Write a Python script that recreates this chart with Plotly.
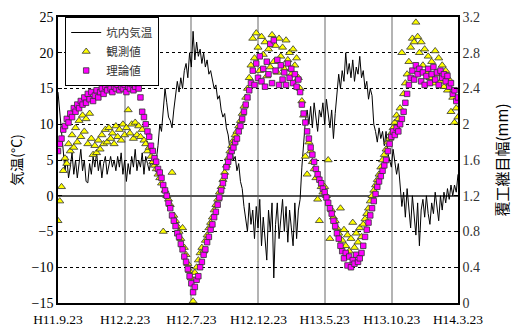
import pandas as pd
import plotly.graph_objects as go

start_date = "1999-09-23"
step_days = 4

tick_dates = ["1999-09-23", "2000-02-23", "2000-07-23", "2000-12-23",
              "2001-05-23", "2001-10-23", "2002-03-23"]
tick_labels = ["H11.9.23", "H12.2.23", "H12.7.23", "H12.12.23",
               "H13.5.23", "H13.10.23", "H14.3.23"]

# 坑内気温 (°C), every 4 days
air_temp = [
    14.5, 12.0, 8.5, 6.0, 3.5, 5.5, 2.5, 4.0, 6.0, 3.0,
    5.0, 2.5, 4.5, 6.5, 3.5, 5.0, 2.0, 1.8, 4.5, 3.0,
    5.5, 4.0, 6.0, 3.5, 5.0, 2.5, 4.5, 5.5, 3.0, 4.5,
    5.5, 4.0, 5.0, 3.5, 5.5, 4.0, 6.0, 3.0, 5.0, 2.0,
    4.5, 3.0, 5.5, 4.0, 6.5, 3.5, 5.0, 4.0, 6.0, 3.0,
    5.5, 4.5, 3.5, 5.0, 4.0, 5.5, 5.0, 7.0, 10.0, 9.0,
    12.5, 15.0, 13.0, 11.0, 10.5, 9.5, 12.0, 14.5, 16.0, 14.5,
    16.5, 15.0, 17.5, 18.5, 16.5, 20.0, 18.0, 23.0, 19.0, 21.5,
    19.5, 20.5, 18.5, 20.0, 18.0, 19.0, 17.0, 17.5, 16.0, 15.0,
    15.5, 13.5, 14.0, 12.0, 11.0, 11.5, 9.5, 8.5, 6.5, 7.0,
    5.0, 5.5, 3.5, 4.5, 2.0, 1.0, -1.5, -3.0, -5.0, -1.0,
    -4.0, -2.0, -6.0, -1.5, -4.5, -0.5, -7.0, -3.0, -5.5, -9.0,
    -2.0, -5.0, -1.0, -11.5, -4.0, -1.0, -6.0, -2.5, -0.5, -5.0,
    -1.5, -6.5, -2.0, -4.5, -7.0, -1.0, -6.0, -2.0, -0.5, 4.0,
    7.5, 10.5, 12.0, 10.0, 12.5, 9.5, 13.0, 10.5, 9.0, 12.0,
    11.0, 13.0, 10.0, 13.5, 11.0, 9.5, 12.0, 8.0, 11.5, 14.0,
    17.0, 15.0, 17.5, 16.0, 20.0, 17.0, 18.5, 16.5, 19.0, 16.0,
    18.0, 17.0, 19.5, 16.5, 17.5, 15.0, 16.0, 13.5, 15.0, 14.0,
    10.0, 9.0, 7.5, 9.5, 8.0, 9.0, 7.0, 9.0, 6.0, 5.0,
    4.0, 6.5, 5.0, 3.0, 4.5, 1.0, -1.5, 0.5, -3.0, 1.0,
    -2.0, -4.5, 0.0, -3.5, -5.5, -1.0, -7.0, -2.0, -0.5, -3.0,
    0.0, -2.5, -4.0, -1.0, -2.5, 0.5, -1.5, -3.5, 0.0, -2.0,
    0.5, -1.0, 1.0, -0.5, 1.5, 0.0, 1.5, 0.5, 3.0,
]

# 観測値 (mm)
observed = [
    0.92, 1.14, 1.30, 1.48, 1.62, 1.56, 1.78, 1.70, 1.88, 1.74,
    1.96, 1.80, 2.04, 1.86, 2.10, 1.92, 2.06, 1.78, 2.12, 1.84,
    1.66, 1.76, 1.68, 1.82, 1.72, 1.88, 1.78, 1.94, 1.80, 1.96,
    1.84, 1.90, 1.78, 1.98, 1.86, 1.94, 1.82, 2.00, 1.88, 1.96,
    2.16, 1.90, 2.00, 1.84, 2.02, 1.88, 1.98, 1.86, 1.94, 1.82,
    1.78, 1.70, 1.74, 1.64, 1.58, 1.54, 1.50, 1.44, 1.40, 1.34,
    0.80, 1.26, 1.20, 1.16, 1.10, 1.46, 0.98, 0.92, 0.86, 0.80,
    0.72, 0.84, 0.62, 0.54, 0.44, 0.36, 0.28, 0.02, 0.34, 0.40,
    0.48, 0.56, 0.62, 0.58, 0.70, 0.76, 0.84, 0.90, 0.96, 1.04,
    1.10, 1.16, 1.24, 1.30, 1.38, 1.46, 1.54, 1.62, 1.70, 1.76,
    1.82, 1.88, 1.92, 1.98, 2.04, 2.12, 2.20, 2.30, 2.40, 2.52,
    2.66, 2.96, 2.74, 3.02, 2.86, 2.60, 2.98, 2.78, 2.92, 2.54,
    2.84, 2.64, 3.00, 2.70, 2.88, 2.58, 2.96, 2.76, 2.86, 2.62,
    2.94, 2.72, 2.80, 2.56, 2.84, 2.66, 2.74, 2.52, 2.40, 2.26,
    2.10, 1.64, 1.44, 1.80, 1.70, 1.58, 1.50, 1.40, 1.16, 0.92,
    1.30, 1.24, 1.30, 1.20, 1.60, 0.72, 1.04, 0.96, 0.92, 0.84,
    0.78, 1.06, 0.70, 0.82, 0.64, 0.76, 0.58, 0.72, 0.90, 0.62,
    0.78, 0.68, 0.84, 0.74, 0.88, 0.94, 1.00, 1.06, 1.14, 1.20,
    1.26, 1.32, 1.38, 1.44, 1.52, 1.60, 1.66, 1.72, 1.80, 1.84,
    1.90, 1.96, 2.02, 2.10, 2.06, 2.18, 2.80, 2.34, 2.46, 2.56,
    2.70, 2.86, 2.96, 2.92, 3.14, 2.98, 2.80, 2.92, 2.66, 2.84,
    2.58, 2.76, 2.52, 2.70, 2.46, 2.82, 2.56, 2.74, 2.48, 2.66,
    2.42, 2.60, 2.38, 2.50, 2.14, 2.30, 2.02, 2.18, 2.08,
]

# 理論値 (mm)
theory = [
    1.70, 1.78, 1.84, 1.94, 1.98, 2.06, 2.02, 2.12, 2.08, 2.18,
    2.14, 2.22, 2.18, 2.26, 2.22, 2.30, 2.24, 2.34, 2.28, 2.36,
    2.26, 2.32, 2.38, 2.30, 2.36, 2.40, 2.34, 2.42, 2.38, 2.44,
    2.40, 2.36, 2.42, 2.40, 2.44, 2.38, 2.42, 2.40, 2.44, 2.36,
    2.42, 2.40, 2.45, 2.38, 2.42, 2.46, 2.40, 2.30, 2.14, 2.08,
    2.00, 1.92, 1.86, 1.76, 1.70, 1.62, 1.58, 1.50, 1.46, 1.40,
    1.32, 1.26, 1.20, 1.12, 1.06, 0.98, 0.92, 0.86, 0.78, 0.74,
    0.66, 0.60, 0.52, 0.46, 0.38, 0.30, 0.22, 0.12, 0.18, 0.26,
    0.30, 0.40, 0.46, 0.54, 0.60, 0.68, 0.74, 0.82, 0.88, 0.96,
    1.02, 1.10, 1.18, 1.26, 1.34, 1.42, 1.52, 1.58, 1.64, 1.70,
    1.74, 1.80, 1.84, 1.92, 1.98, 2.06, 2.14, 2.22, 2.30, 2.38,
    2.46, 2.60, 2.44, 2.68, 2.52, 2.76, 2.48, 2.62, 2.42, 2.70,
    2.56, 2.90, 2.46, 2.94, 2.60, 2.72, 2.44, 2.66, 2.50, 2.58,
    2.44, 2.68, 2.52, 2.62, 2.46, 2.56, 2.42, 2.50, 2.36, 2.22,
    2.12, 2.02, 1.92, 1.84, 1.74, 1.66, 1.58, 1.50, 1.44, 1.38,
    1.34, 1.28, 1.24, 1.18, 1.12, 1.06, 1.00, 0.92, 0.86, 0.78,
    0.72, 0.64, 0.58, 0.50, 0.56, 0.42, 0.52, 0.40, 0.48, 0.44,
    0.54, 0.46, 0.50, 0.56, 0.64, 0.74, 0.82, 0.90, 0.98, 1.06,
    1.14, 1.22, 1.30, 1.36, 1.42, 1.48, 1.54, 1.60, 1.70, 1.78,
    1.86, 1.92, 1.88, 1.96, 1.92, 2.00, 2.06, 2.14, 2.24, 2.34,
    2.44, 2.52, 2.60, 2.50, 2.66, 2.56, 2.62, 2.48, 2.58, 2.44,
    2.54, 2.62, 2.46, 2.56, 2.64, 2.50, 2.58, 2.44, 2.60, 2.52,
    2.56, 2.48, 2.54, 2.42, 2.46, 2.34, 2.38, 2.26, 2.30,
]

dates = pd.date_range(start=start_date, periods=len(air_temp), freq=f"{step_days}D")

serif = "Times New Roman, Liberation Serif, DejaVu Serif, serif"
jp = "Noto Sans CJK JP"

fig = go.Figure()
fig.add_trace(go.Scatter(
    x=dates, y=air_temp, mode="lines", name="坑内気温",
    line=dict(color="black", width=1), yaxis="y"))
fig.add_trace(go.Scatter(
    x=dates, y=observed, mode="markers", name="観測値",
    marker=dict(symbol="triangle-up", size=7, color="#FFFF00",
                line=dict(color="#333333", width=0.8)), yaxis="y2"))
fig.add_trace(go.Scatter(
    x=dates, y=theory, mode="markers", name="理論値",
    marker=dict(symbol="square", size=5.5, color="#FF00FF",
                line=dict(color="#333333", width=0.8)), yaxis="y2"))

fig.update_layout(
    width=518, height=329,
    margin=dict(l=58, r=60, t=17, b=26, autoexpand=False),
    paper_bgcolor="white", plot_bgcolor="white",
    showlegend=True,
    legend=dict(x=0.018, y=1.0, xanchor="left", yanchor="top",
                bgcolor="white", bordercolor="black", borderwidth=1,
                font=dict(family=jp, size=11.5, color="#333333"),
                tracegroupgap=0, itemwidth=30),
    xaxis=dict(
        type="date", automargin=False,
        range=[tick_dates[0], tick_dates[-1]],
        tickvals=tick_dates, ticktext=tick_labels,
        tickfont=dict(family=serif, size=13.5, color="black"),
        showgrid=True, gridcolor="#b4b4b4", gridwidth=1.5,
        showline=True, linecolor="black", linewidth=1.5, mirror=True,
        ticks="", zeroline=False, ticklabelstandoff=3,
    ),
    yaxis=dict(
        range=[-15, 25], dtick=5, automargin=False,
        tickfont=dict(family=serif, size=14, color="black"),
        title=dict(text="気温(°C)", font=dict(family=jp, size=14, color="black"), standoff=6),
        showgrid=True, gridcolor="black", gridwidth=1, griddash="dot",
        zeroline=True, zerolinecolor="#555555", zerolinewidth=1.5,
        showline=True, linecolor="black", linewidth=1.5, mirror=True,
        ticks="inside", ticklen=4, tickcolor="black",
    ),
    yaxis2=dict(
        range=[0, 3.2], dtick=0.4, overlaying="y", side="right", automargin=False,
        tickfont=dict(family=serif, size=14, color="#333333"),
        title=dict(text="覆工継目幅(mm)", font=dict(family=jp, size=15, color="black"), standoff=18),
        showgrid=False, zeroline=False,
        ticks="inside", ticklen=4, tickcolor="black",
        showline=True, linecolor="black", linewidth=1.5,
    ),
)

fig.write_html(
    "out.html",
    config={"displayModeBar": False},
    post_script="document.body.style.margin='0';document.body.style.overflow='hidden';",
)
